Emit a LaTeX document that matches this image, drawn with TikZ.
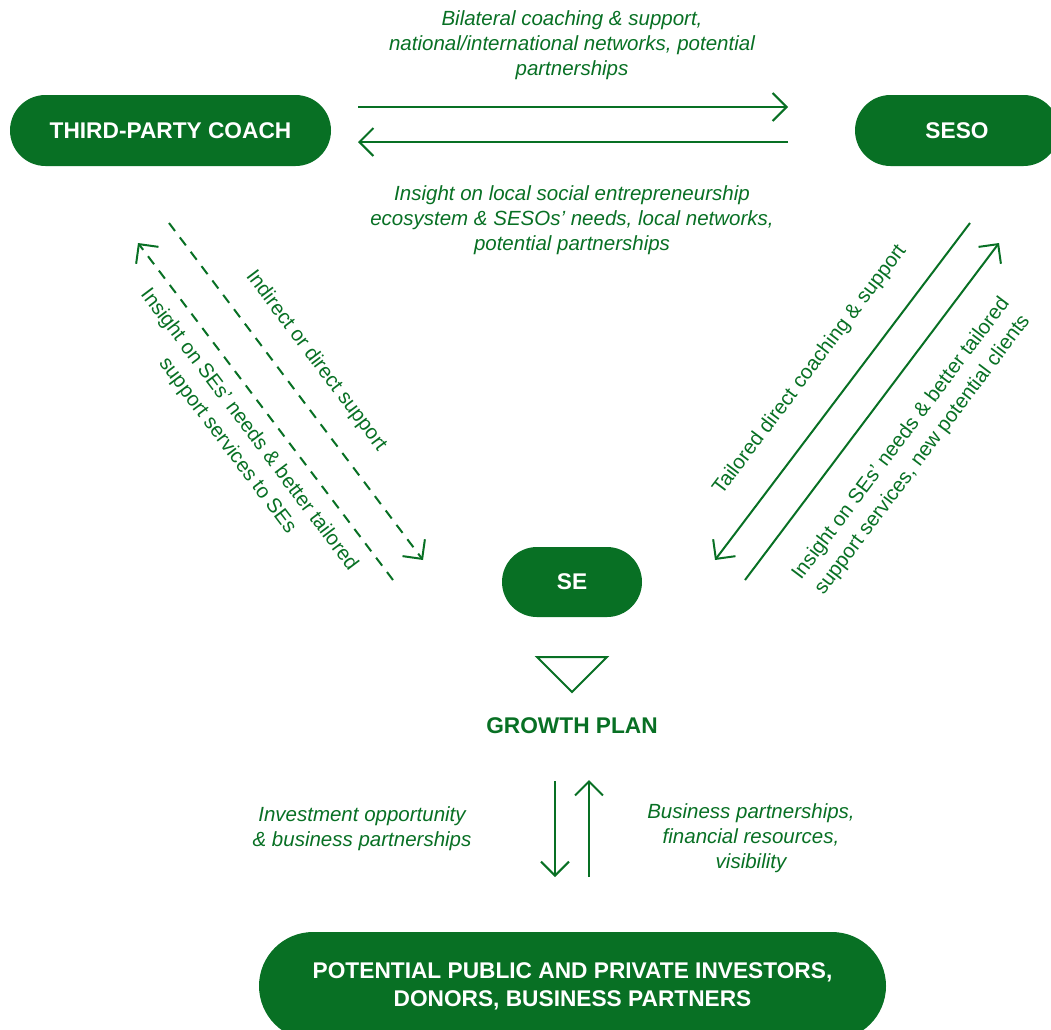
\documentclass[tikz,border=0pt]{standalone}
\usepackage{fontspec}
\setmainfont{Liberation Sans}
\usepackage{xcolor}
\usepackage{tikz}
\usetikzlibrary{arrows.meta}

\definecolor{sesgreen}{RGB}{8,112,36}

\tikzset{
  pill/.style={fill=sesgreen,text=white,inner sep=0pt,align=center,
    font=\fontsize{22.7}{28}\selectfont\bfseries,
    minimum height=71pt,rounded corners=35.5pt},
  flow/.style={draw=sesgreen,line width=2pt,
    -{Straight Barb[length=14pt,width=28pt,line width=2pt]}},
  itlabel/.style={text=sesgreen,align=center,
    font=\fontsize{20.5}{25}\selectfont\itshape},
  rotlabel/.style={text=sesgreen,align=center,
    font=\fontsize{20.4}{27}\selectfont},
}

\begin{document}
\begin{tikzpicture}[x=1pt,y=-1pt]

\clip (0,0) rectangle (1051,1029);
\useasboundingbox (0,0) rectangle (1051,1029);

% Slant of the side arrows
\def\slant{53}

% Actors
\node[pill,minimum width=321pt] (coach) at (170.5,130.5) {THIRD-PARTY COACH};
\node[pill,minimum width=204pt] (seso) at (957,130.5) {SESO};
\node[pill,minimum width=140pt,minimum height=70pt,rounded corners=35pt] (se) at (572,582) {SE};
\node[pill,minimum width=627pt,minimum height=108pt,rounded corners=54pt] (investors) at (572.5,986)
  {POTENTIAL PUBLIC AND PRIVATE INVESTORS,\\DONORS, BUSINESS PARTNERS};

% Growth plan
\draw[sesgreen,line width=2pt] (537,657) -- (607,657) -- (572,692) -- cycle;
\node[text=sesgreen,font=\fontsize{22.7}{28}\selectfont\bfseries] (plan) at (572,726) {GROWTH PLAN};

% Coach <-> SESO
\coordinate (cs1) at (358,107);
\coordinate (cs2) at (788,107);
\coordinate (sc1) at (788,142);
\coordinate (sc2) at (358,142);
\draw[flow] (cs1) -- (cs2);
\draw[flow] (sc1) -- (sc2);
\node[itlabel] (bilateral) at (572,45)
  {Bilateral coaching \& support,\\national/international networks, potential\\partnerships};
\node[itlabel] (localins) at (572,220)
  {Insight on local social entrepreneurship\\ecosystem \& SESOs’ needs, local networks,\\potential partnerships};

% Coach <-> SE (dashed)
\coordinate (ce1) at (169,223);
\coordinate (ce2) at (423,560);
\coordinate (ec1) at (393,580);
\coordinate (ec2) at (138,243);
\draw[flow,dash pattern=on 10pt off 8pt] (ce1) -- (ce2);
\draw[flow,dash pattern=on 10pt off 8pt] (ec1) -- (ec2);
\node[rotlabel,rotate=-\slant] (indirect) at (316,361) {Indirect or direct support};
\node[rotlabel,rotate=-\slant] (coachins) at (238,438)
  {Insight on SEs’ needs \& better tailored\\support services to SEs};

% SESO <-> SE
\coordinate (se1) at (970,223);
\coordinate (se2) at (715,560);
\coordinate (es1) at (745,580);
\coordinate (es2) at (999,243);
\draw[flow] (se1) -- (se2);
\draw[flow] (es1) -- (es2);
\node[rotlabel,rotate=\slant] (tailored) at (810,370) {Tailored direct coaching \& support};
\node[rotlabel,rotate=\slant] (sesoins) at (912,447)
  {Insight on SEs’ needs \& better tailored\\support services, new potential clients};

% Growth plan <-> investors
\coordinate (gi1) at (555,781);
\coordinate (gi2) at (555,877);
\coordinate (ig1) at (589,877);
\coordinate (ig2) at (589,780);
\draw[flow] (gi1) -- (gi2);
\draw[flow] (ig1) -- (ig2);
\node[itlabel] (invest) at (362,829) {Investment opportunity\\\& business partnerships};
\node[itlabel] (business) at (751,838) {Business partnerships,\\financial resources,\\visibility};

\end{tikzpicture}
\end{document}
